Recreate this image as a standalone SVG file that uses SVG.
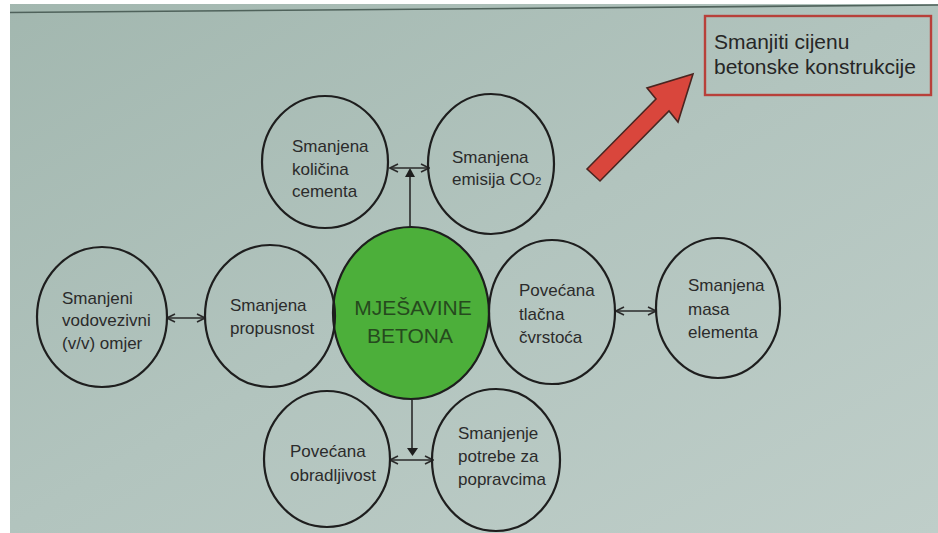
<svg xmlns="http://www.w3.org/2000/svg" width="938" height="533" viewBox="0 0 938 533">
<defs>
<linearGradient id="bg" x1="0" y1="0" x2="1" y2="1">
<stop offset="0" stop-color="#a2b7af"/>
<stop offset="0.5" stop-color="#b2c4be"/>
<stop offset="1" stop-color="#bfcec9"/>
</linearGradient>
<marker id="chev" viewBox="0 0 10 10" refX="9" refY="5" markerWidth="10" markerHeight="10" markerUnits="userSpaceOnUse" orient="auto-start-reverse">
<path d="M1,1 L9,5 L1,9" fill="none" stroke="#2a2a2a" stroke-width="1.6"/>
</marker>
<style>
.c{fill:none;stroke:#1e1e1e;stroke-width:2.2}
.t{font-family:"Liberation Sans",Arial,sans-serif;font-size:17px;fill:#2b2b2b}
.big{font-family:"Liberation Sans",Arial,sans-serif;font-size:21px;fill:#264a1e;text-anchor:middle}
.box{font-family:"Liberation Sans",Arial,sans-serif;font-size:21px;fill:#262626}
.ln{stroke:#2a2a2a;stroke-width:1.6;fill:none}
.dbl{stroke:#2a2a2a;stroke-width:1.6;fill:none;marker-start:url(#chev);marker-end:url(#chev)}
</style>
</defs>
<rect x="0" y="0" width="938" height="533" fill="url(#bg)"/>
<rect x="0" y="0" width="10" height="533" fill="#ffffff"/>
<rect x="0" y="0" width="938" height="4" fill="#ffffff"/>
<path d="M10,12.5 L938,5" stroke="#4f625b" stroke-width="1.6" fill="none"/>

<g id="connectors">
<line class="ln" x1="410" y1="227" x2="410" y2="176"/>
<polygon points="405,177 415,177 410,168" fill="#1e1e1e"/>
<line class="dbl" x1="390" y1="168" x2="429" y2="168"/>
<line class="ln" x1="412" y1="400" x2="412" y2="449"/>
<polygon points="407,448 418,448 412.5,456" fill="#1e1e1e"/>
<line class="dbl" x1="390" y1="460" x2="433" y2="460"/>
<line class="dbl" x1="167" y1="318" x2="205" y2="318"/>
<line class="dbl" x1="616" y1="311" x2="656" y2="311"/>
</g>

<g id="n-kolicina">
<ellipse class="c" cx="325" cy="162" rx="63" ry="66"/>
<text class="t" x="292" y="152">Smanjena</text>
<text class="t" x="292" y="175">količina</text>
<text class="t" x="292" y="197">cementa</text>
</g>
<g id="n-emisija">
<ellipse class="c" cx="491" cy="164" rx="63" ry="70"/>
<text class="t" x="452" y="163">Smanjena</text>
<text class="t" x="452" y="185">emisija CO<tspan font-size="11">2</tspan></text>
</g>
<g id="n-center">
<ellipse cx="411" cy="313" rx="78" ry="86" fill="#4caf3a" stroke="#1e1e1e" stroke-width="2.2"/>
<text class="big" x="413" y="315">MJEŠAVINE</text>
<text class="big" x="410" y="343">BETONA</text>
</g>
<g id="n-vodovezivni">
<ellipse class="c" cx="102" cy="317" rx="65" ry="70"/>
<text class="t" x="62" y="304">Smanjeni</text>
<text class="t" x="62" y="326">vodovezivni</text>
<text class="t" x="62" y="349">(v/v) omjer</text>
</g>
<g id="n-propusnost">
<ellipse class="c" cx="270" cy="316" rx="65" ry="71"/>
<text class="t" x="230" y="311">Smanjena</text>
<text class="t" x="230" y="334">propusnost</text>
</g>
<g id="n-tlacna">
<ellipse class="c" cx="552" cy="312" rx="63" ry="72"/>
<text class="t" x="519" y="296">Povećana</text>
<text class="t" x="519" y="320">tlačna</text>
<text class="t" x="519" y="343">čvrstoća</text>
</g>
<g id="n-masa">
<ellipse class="c" cx="718" cy="308" rx="62" ry="70"/>
<text class="t" x="688" y="291">Smanjena</text>
<text class="t" x="688" y="315">masa</text>
<text class="t" x="688" y="338">elementa</text>
</g>
<g id="n-obradljivost">
<ellipse class="c" cx="327" cy="459" rx="63" ry="68"/>
<text class="t" x="290" y="457">Povećana</text>
<text class="t" x="290" y="481">obradljivost</text>
</g>
<g id="n-popravci">
<ellipse class="c" cx="496" cy="460" rx="64" ry="71"/>
<text class="t" x="458" y="439">Smanjenje</text>
<text class="t" x="458" y="462">potrebe za</text>
<text class="t" x="458" y="485">popravcima</text>
</g>

<g id="n-cijena">
<rect x="705" y="16" width="226" height="79" fill="none" stroke="#b8403a" stroke-width="2.4"/>
<text class="box" x="714" y="49">Smanjiti cijenu</text>
<text class="box" x="714" y="74">betonske konstrukcije</text>
</g>
<g id="red-arrow">
<polygon points="587,169 656,99 647,88 693,74 678,122 669,111 600,181" fill="#d9463c" stroke="#4a2520" stroke-width="1.6" stroke-linejoin="miter"/>
</g>
</svg>
